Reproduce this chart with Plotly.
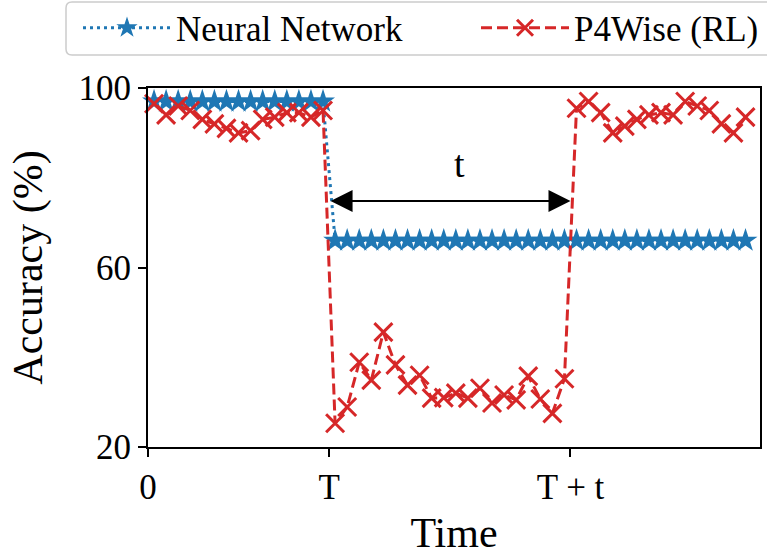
import plotly.graph_objects as go

# Sampling instants (mid-interval), shared by both methods
time = [0.5, 1.5, 2.5, 3.5, 4.5, 5.5, 6.5, 7.5, 8.5, 9.5,
        10.5, 11.5, 12.5, 13.5, 14.5, 15.5, 16.5, 17.5, 18.5, 19.5,
        20.5, 21.5, 22.5, 23.5, 24.5, 25.5, 26.5, 27.5, 28.5, 29.5,
        30.5, 31.5, 32.5, 33.5, 34.5, 35.5, 36.5, 37.5, 38.5, 39.5,
        40.5, 41.5, 42.5, 43.5, 44.5, 45.5, 46.5, 47.5, 48.5, 49.5]

# Accuracy (%) of the static neural network
nn_acc = [97] * 15 + [66] * 35

# Accuracy (%) of P4Wise (RL)
rl_acc = [96.5, 94, 96, 95, 93, 92, 91, 90, 90.5, 93,
          93.5, 94.5, 94.5, 93.5, 95,
          25.3, 28.9, 38.9, 34.9, 45.6, 38.3, 33.8, 36, 30.9, 31,
          32, 30.9, 33.1, 29.8, 31.6, 30.5, 35.8, 30.7, 27.5, 35.2,
          95.5, 97, 94.5, 90, 91.5, 93, 94, 94.5, 94, 97,
          96, 95, 92, 90, 93.5]

tick_vals = [0, 15, 35]
tick_text = ["0", "T", "T + t"]
y_ticks = [20, 60, 100]

T_START = 15
T_END = 35
ARROW_Y = 74.8

FONT = "Liberation Serif, Times New Roman, serif"
BLUE = "#1f77b4"
RED = "#d62728"

W, H = 767, 556
ML, MR, MT, MB = 148, 7, 88, 109
PW, PH = W - ML - MR, H - MT - MB


def px_to_paper_x(px):
    return (px - ML) / PW


def px_to_paper_y(py):
    return (H - MB - py) / PH


fig = go.Figure()

fig.add_trace(go.Scatter(
    x=time, y=nn_acc, name="Neural Network", mode="lines+markers",
    line=dict(color=BLUE, width=3, dash="3px,4px"),
    marker=dict(symbol="star", size=18, color=BLUE, line=dict(width=0)),
    cliponaxis=False, legend="legend",
))

fig.add_trace(go.Scatter(
    x=time, y=rl_acc, name="P4Wise (RL)", mode="lines+markers",
    line=dict(color=RED, width=3, dash="11px,5px"),
    marker=dict(symbol="x-thin", size=18, color=RED,
                line=dict(width=3, color=RED)),
    cliponaxis=False, legend="legend2",
))

# Double-headed arrow marking the adaptation interval t
fig.add_annotation(
    x=T_END, y=ARROW_Y, ax=T_START, ay=ARROW_Y,
    xref="x", yref="y", axref="x", ayref="y",
    text="", showarrow=True, arrowhead=2, arrowside="end+start",
    arrowsize=2.2, arrowwidth=2, arrowcolor="black",
)
fig.add_annotation(
    x=25.8, y=83, xref="x", yref="y", text="t", showarrow=False,
    font=dict(family=FONT, size=38, color="black"),
)

# Frame shared by the two legend entries
lx0, lx1 = px_to_paper_x(66), px_to_paper_x(800)
ly0, ly1 = px_to_paper_y(55), px_to_paper_y(2)
r = 6 / PW
ry = 6 / PH
fig.add_shape(
    type="path", xref="paper", yref="paper",
    path=(f"M{lx0 + r},{ly1} L{lx1},{ly1} L{lx1},{ly0} L{lx0 + r},{ly0} "
          f"Q{lx0},{ly0} {lx0},{ly0 + ry} L{lx0},{ly1 - ry} "
          f"Q{lx0},{ly1} {lx0 + r},{ly1} Z"),
    line=dict(color="#cccccc", width=1.5), fillcolor="white", layer="below",
)

axis_common = dict(
    showline=True, linecolor="black", linewidth=2, mirror=True,
    ticks="outside", ticklen=8, tickwidth=2, tickcolor="black",
    showgrid=False, zeroline=False,
    tickfont=dict(family=FONT, size=35, color="black"),
)

fig.update_xaxes(
    range=[0, 50.7], tickmode="array", tickvals=tick_vals, ticktext=tick_text,
    title=dict(text="Time", font=dict(family=FONT, size=42, color="black"),
               standoff=13),
    **axis_common,
)
fig.update_yaxes(
    range=[20, 100], tickmode="array", tickvals=y_ticks,
    title=dict(text="Accuracy (%)", font=dict(family=FONT, size=42, color="black"),
               standoff=23),
    **axis_common,
)

legend_common = dict(
    orientation="h", xref="container", yref="container",
    xanchor="left", yanchor="middle",
    font=dict(family=FONT, size=35, color="black"),
    borderwidth=0, bgcolor="rgba(0,0,0,0)", itemwidth=88,
)

fig.update_layout(
    width=W, height=H,
    margin=dict(l=ML, r=MR, t=MT, b=MB, autoexpand=False),
    paper_bgcolor="white", plot_bgcolor="white",
    showlegend=True,
    legend=dict(x=78 / W, y=1 - 28 / H, **legend_common),
    legend2=dict(x=476 / W, y=1 - 28 / H, **legend_common),
)

fig.write_html("out.html")
